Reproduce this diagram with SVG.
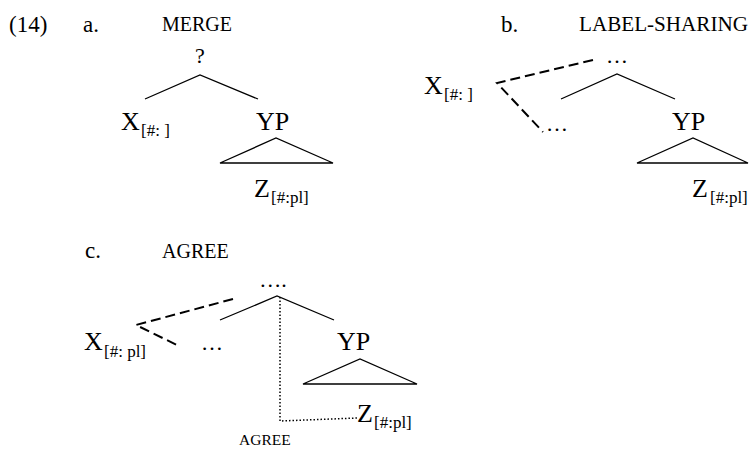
<svg xmlns="http://www.w3.org/2000/svg" width="749" height="450" viewBox="0 0 749 450" font-family="'Liberation Serif', 'DejaVu Serif', serif">
<style>
text { font-family: 'Liberation Serif', 'Times New Roman', 'DejaVu Serif', serif; fill: #000; }
.hd { font-size: 23px; }
.sc { font-size: 20px; }
.sc2 { font-size: 15.5px; }
.nd { font-size: 26px; }
.sub { font-size: 17px; }
.q { font-size: 22px; }
.solid { stroke: #000; stroke-width: 1.3; fill: none; }
.dash { stroke: #000; stroke-width: 2; fill: none; stroke-dasharray: 10 5; }
.dot { stroke: #000; stroke-width: 1.5; fill: none; stroke-dasharray: 1.5 2; }
</style>
<rect width="749" height="450" fill="#fff"/>
<g id="labels">
<text class="hd" x="9" y="32">(14)</text>
<text class="hd" x="83" y="32">a.</text>
<text class="sc" x="162" y="31">MERGE</text>
<text class="hd" x="501" y="32">b.</text>
<text class="sc" x="579" y="31" textLength="169" lengthAdjust="spacingAndGlyphs">LABEL-SHARING</text>
<text class="hd" x="85" y="258">c.</text>
<text class="sc" x="162" y="258">AGREE</text>
</g>
<g id="treeA">
<g id="a-root"><text class="q" x="200" y="63" text-anchor="middle">?</text></g>
<g id="a-X"><text class="nd" x="121" y="130">X</text><text class="sub" x="141" y="136">[#: ]</text></g>
<g id="a-YP"><text class="nd" x="256" y="130">YP</text></g>
<g id="a-Z"><text class="nd" x="254" y="197">Z</text><text class="sub" x="271" y="203">[#:pl]</text></g>
</g>
<g id="treeB">
<g id="b-root"><text class="q" x="617" y="63" text-anchor="middle">…</text></g>
<g id="b-X"><text class="nd" x="424" y="94">X</text><text class="sub" x="444" y="100">[#: ]</text></g>
<g id="b-dots"><text class="q" x="557" y="131" text-anchor="middle">…</text></g>
<g id="b-YP"><text class="nd" x="672" y="130">YP</text></g>
<g id="b-Z"><text class="nd" x="692" y="197">Z</text><text class="sub" x="710" y="203">[#:pl]</text></g>
</g>
<g id="treeC">
<g id="c-root"><text class="q" x="273" y="287" text-anchor="middle">….</text></g>
<g id="c-X"><text class="nd" x="84" y="350">X</text><text class="sub" x="104" y="357">[#: pl]</text></g>
<g id="c-dots"><text class="q" x="212" y="350" text-anchor="middle">…</text></g>
<g id="c-YP"><text class="nd" x="337" y="350">YP</text></g>
<g id="c-Z"><text class="nd" x="357" y="422">Z</text><text class="sub" x="374" y="428">[#:pl]</text></g>
<g id="c-agree"><text class="sc2" x="239" y="445">AGREE</text></g>
</g>
<g id="connectors">
<path class="solid" d="M145 99 L200 75 L258 99"/>
<path class="solid" d="M220 163 L276 138 L333 163 Z"/>
<path class="dash" d="M593 60 L497 83 L543 132"/>
<path class="solid" d="M561 99 L617 74 L675 99"/>
<path class="solid" d="M637 163 L693 138 L748 163 Z"/>
<path class="dash" d="M233 299 L136 325 L179 346"/>
<path class="solid" d="M220 320 L277 296 L334 320"/>
<path class="solid" d="M303 384 L360 359 L417 384 Z"/>
<path class="dot" d="M280 297 L280 421 L357 418"/>
</g>
</svg>
